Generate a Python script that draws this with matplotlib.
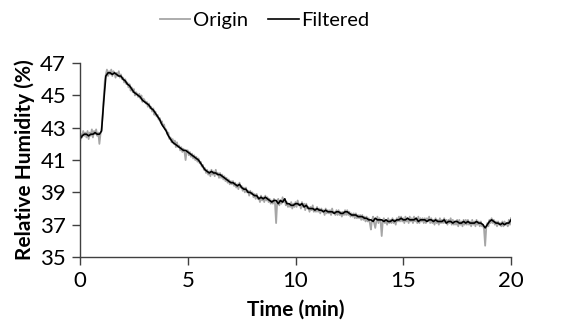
import numpy as np
import matplotlib
matplotlib.use("Agg")
import matplotlib.pyplot as plt

plt.rcParams['font.family'] = ['Lato', 'DejaVu Sans']

# Filtered signal, one value every 0.1 min (0 .. 20 min)
filtered_rh = [
    42.3, 42.5, 42.6, 42.6, 42.5, 42.6, 42.6, 42.7, 42.6, 42.6,
    42.8, 44.6, 46.2, 46.4, 46.4, 46.3, 46.4, 46.3, 46.2, 46.2,
    46.0, 45.9, 45.7, 45.6, 45.4, 45.2, 45.1, 45.0, 44.9, 44.7,
    44.6, 44.5, 44.4, 44.2, 44.1, 43.9, 43.7, 43.5, 43.2, 43.0,
    42.8, 42.5, 42.3, 42.1, 42.0, 41.9, 41.8, 41.7, 41.6, 41.6,
    41.5, 41.4, 41.3, 41.2, 41.1, 41.0, 40.8, 40.6, 40.4, 40.3,
    40.2, 40.3, 40.2, 40.2, 40.1, 40.1, 40.0, 39.9, 39.8, 39.7,
    39.6, 39.6, 39.5, 39.4, 39.5, 39.3, 39.2, 39.2, 39.0, 39.0,
    38.9, 38.8, 38.8, 38.6, 38.7, 38.6, 38.7, 38.6, 38.5, 38.4,
    38.5, 38.5, 38.3, 38.5, 38.4, 38.6, 38.3, 38.3, 38.2, 38.2,
    38.3, 38.3, 38.2, 38.3, 38.1, 38.2, 38.0, 38.0, 38.0, 37.9,
    38.0, 37.9, 37.9, 37.8, 37.9, 37.8, 37.8, 37.8, 37.7, 37.8,
    37.8, 37.7, 37.7, 37.8, 37.8, 37.7, 37.6, 37.6, 37.6, 37.5,
    37.5, 37.5, 37.4, 37.4, 37.3, 37.3, 37.2, 37.4, 37.3, 37.3,
    37.3, 37.2, 37.3, 37.2, 37.2, 37.3, 37.2, 37.3, 37.3, 37.4,
    37.3, 37.3, 37.4, 37.3, 37.3, 37.3, 37.4, 37.2, 37.3, 37.3,
    37.3, 37.2, 37.3, 37.3, 37.2, 37.3, 37.2, 37.2, 37.2, 37.3,
    37.1, 37.2, 37.2, 37.1, 37.2, 37.2, 37.1, 37.1, 37.2, 37.1,
    37.2, 37.1, 37.1, 37.1, 37.2, 37.1, 37.1, 37.0, 36.8, 37.0,
    37.2, 37.3, 37.2, 37.1, 37.1, 37.0, 37.1, 37.0, 37.1, 37.1,
    37.3,
]

# Raw (origin) signal, one value every 0.05 min (0 .. 20 min)
origin_rh = [
    42.1, 42.6, 42.4, 42.8, 42.5, 42.7, 42.4, 42.8, 42.3, 42.7, 42.5, 42.9, 42.4, 42.8, 42.6, 42.9, 42.5, 42.7, 42.0, 42.6,
    42.9, 43.8, 44.9, 45.9, 46.3, 46.6, 46.2, 46.5, 46.3, 46.6, 46.2, 46.5, 46.4, 46.1, 46.4, 46.2, 46.5, 46.1, 46.3, 46.0,
    46.1, 45.8, 46.0, 45.7, 45.8, 45.5, 45.7, 45.3, 45.5, 45.2, 45.4, 45.0, 45.2, 45.1, 44.9, 45.1, 44.8, 45.0, 44.6, 44.8,
    44.7, 44.5, 44.6, 44.3, 44.5, 44.2, 44.3, 44.0, 44.2, 43.8, 44.0, 43.7, 43.8, 43.5, 43.6, 43.3, 43.4, 43.1, 43.2, 42.9,
    42.9, 42.6, 42.7, 42.3, 42.4, 42.1, 42.3, 42.0, 42.2, 41.8, 42.1, 41.8, 41.9, 41.6, 41.8, 41.5, 41.7, 41.5, 41.0, 41.6,
    41.6, 41.3, 41.5, 41.2, 41.4, 41.1, 41.3, 41.0, 41.2, 40.9, 41.1, 40.8, 40.9, 40.6, 40.7, 40.4, 40.5, 40.2, 40.4, 40.1,
    40.3, 40.0, 40.4, 40.1, 40.3, 40.0, 40.4, 40.1, 40.2, 39.9, 40.2, 39.9, 40.1, 39.8, 40.0, 39.7, 39.9, 39.6, 39.8, 39.5,
    39.7, 39.5, 39.7, 39.4, 39.6, 39.3, 39.5, 39.2, 39.6, 39.3, 39.4, 39.1, 39.3, 39.0, 39.3, 39.0, 39.1, 38.8, 39.1, 38.9,
    39.0, 38.7, 38.9, 38.6, 38.9, 38.6, 38.7, 38.4, 38.8, 38.5, 38.7, 38.4, 38.8, 38.5, 38.7, 38.4, 38.6, 38.3, 38.5, 38.3,
    38.6, 38.3, 37.1, 38.4, 38.6, 38.2, 38.5, 38.3, 38.7, 38.4, 38.6, 38.2, 38.4, 38.1, 38.3, 38.1, 38.4, 38.0, 38.3, 38.1,
    38.4, 38.1, 38.5, 38.2, 38.3, 38.0, 38.4, 38.1, 38.3, 37.9, 38.3, 38.0, 38.1, 37.8, 38.1, 37.9, 38.2, 37.8, 38.0, 37.8,
    38.1, 37.8, 38.0, 37.7, 38.0, 37.8, 37.9, 37.6, 38.0, 37.7, 37.9, 37.7, 37.9, 37.6, 38.0, 37.7, 37.8, 37.6, 37.9, 37.6,
    37.9, 37.6, 37.8, 37.5, 37.8, 37.6, 37.9, 37.6, 37.9, 37.6, 37.8, 37.5, 37.7, 37.5, 37.7, 37.4, 37.7, 37.4, 37.6, 37.4,
    37.6, 37.3, 37.6, 37.3, 37.5, 37.2, 37.5, 37.2, 37.4, 37.1, 36.7, 37.3, 37.5, 37.1, 36.8, 37.2, 37.5, 37.1, 37.4, 37.2,
    36.3, 37.2, 37.4, 37.1, 37.3, 37.0, 37.4, 37.1, 37.3, 37.1, 37.4, 37.1, 37.3, 37.0, 37.4, 37.2, 37.5, 37.2, 37.5, 37.2,
    37.4, 37.1, 37.5, 37.2, 37.4, 37.1, 37.5, 37.2, 37.4, 37.1, 37.5, 37.2, 37.4, 37.1, 37.5, 37.1, 37.4, 37.2, 37.4, 37.1,
    37.4, 37.1, 37.4, 37.2, 37.5, 37.1, 37.4, 37.1, 37.3, 37.0, 37.4, 37.1, 37.3, 37.0, 37.4, 37.1, 37.3, 37.1, 37.4, 37.1,
    37.3, 37.0, 37.3, 37.1, 37.4, 37.0, 37.3, 37.0, 37.2, 37.0, 37.3, 36.9, 37.3, 37.0, 37.2, 36.9, 37.3, 37.0, 37.3, 37.0,
    37.3, 37.0, 37.2, 36.9, 37.3, 37.0, 37.2, 36.9, 37.3, 37.0, 37.2, 36.9, 37.2, 36.9, 37.0, 36.7, 35.7, 36.8, 37.1, 36.9,
    37.3, 37.1, 37.4, 37.1, 37.3, 37.0, 37.2, 36.9, 37.2, 37.0, 37.1, 36.9, 37.2, 36.9, 37.2, 37.0, 37.1, 36.9, 37.3, 37.0,
    37.4,
]

t_filtered = np.linspace(0, 20, len(filtered_rh))
t_origin = np.linspace(0, 20, len(origin_rh))

fig = plt.figure(figsize=(5.78, 3.34), dpi=100)
ax = fig.add_axes([0.1384, 0.2305, 0.7457, 0.5805])

ax.plot(t_origin, origin_rh, color='#a6a6a6', lw=1.3, label='Origin')
ax.plot(t_filtered, filtered_rh, color='black', lw=1.2, label='Filtered')

ax.set_xlim(0, 20)
ax.set_ylim(35, 47)
ax.set_xticks([0, 5, 10, 15, 20])
ax.set_yticks([35, 37, 39, 41, 43, 45, 47])
ax.tick_params(labelsize=16, length=6, width=1, color='#404040', pad=4)
for s in ['top', 'right']:
    ax.spines[s].set_visible(False)
for s in ['left', 'bottom']:
    ax.spines[s].set_color('#404040')
    ax.spines[s].set_linewidth(1)

ax.set_xlabel('Time (min)', fontsize=15, fontweight='bold', labelpad=6)
ax.set_ylabel('Relative Humidity (%)', fontsize=15, fontweight='bold', labelpad=4)

fig.legend(loc='center', bbox_to_anchor=(0.458, 0.94), ncol=2, frameon=False,
           fontsize=14.5, handlelength=1.5, handletextpad=0.15, columnspacing=1.0)

fig.savefig('out.png', dpi=100)
